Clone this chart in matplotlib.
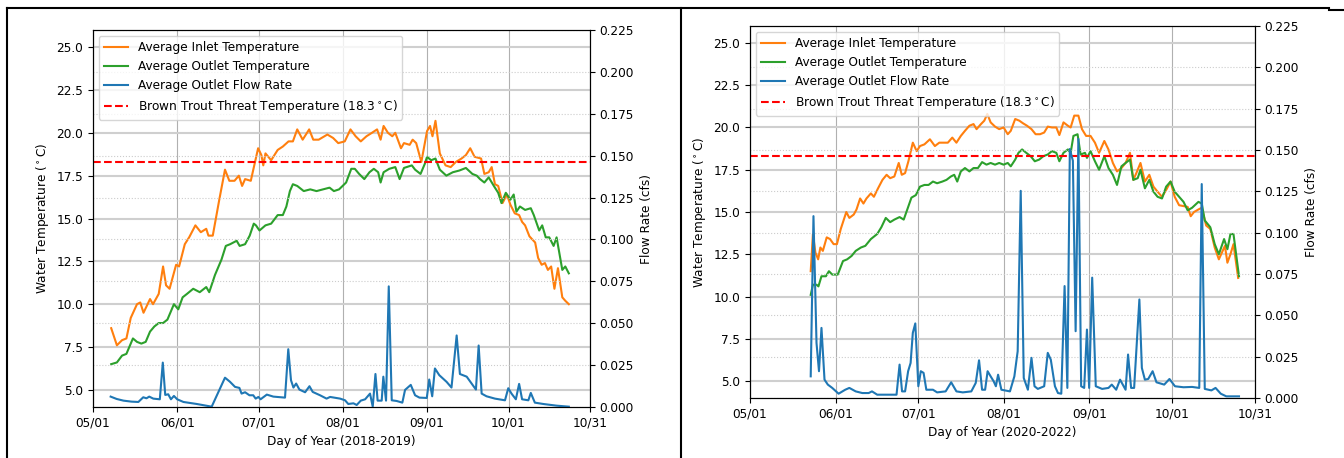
import matplotlib
matplotlib.use("Agg")
import matplotlib.pyplot as plt
from matplotlib.lines import Line2D

# ------------------------------------------------------------
# Data (day offset from 05/01, value)
# ------------------------------------------------------------
MONTH_TICKS = [0, 31, 61, 92, 123, 153, 183]
MONTH_LABELS = ["05/01", "06/01", "07/01", "08/01", "09/01", "10/01", "10/31"]
THREAT_TEMP = 18.3

left_inlet = [
    (6.7, 8.6), (8.8, 7.6), (10.7, 7.9), (12.3, 8.0), (13.9, 9.2), (16.2, 10.0),
    (17.4, 10.1), (18.6, 9.5), (21, 10.3), (22.1, 10.0), (24.2, 10.6), (25.8, 12.2),
    (26.9, 11.1), (28.2, 10.9), (30.6, 12.3), (31.7, 12.2), (33.8, 13.5), (35.4, 13.9),
    (37.7, 14.6), (39.7, 14.2), (41.7, 14.4), (42.5, 14.0), (44.1, 14.0), (46.5, 16.1),
    (48.6, 17.85), (50.2, 17.2), (52.1, 17.2), (53.7, 17.5), (54.9, 16.9), (56, 17.3),
    (58.1, 17.2), (60.8, 19.1), (62, 18.7), (62.7, 18.1), (63.5, 18.8), (65.6, 18.4),
    (68, 19.0), (69.9, 19.2), (72, 19.5), (73.6, 19.5), (75.2, 20.2), (77.2, 19.6),
    (79.6, 20.2), (81.1, 19.6), (83.1, 19.6), (86.3, 19.9), (88.4, 19.7), (90.3, 19.4),
    (92.7, 19.5), (94.8, 20.2), (96.7, 19.8), (98.6, 19.5), (100.7, 19.8), (102.7, 20.0),
    (104.6, 20.2), (105.9, 19.6), (107, 20.4), (108.6, 20.0), (110.2, 19.8), (111.3, 20.0),
    (113.4, 19.1), (114.5, 19.4), (116.6, 19.3), (117.7, 19.6), (119, 19.4), (120.9, 18.3),
    (123, 20.1), (124.1, 20.4), (125, 19.8), (126.1, 20.7), (127.7, 18.8), (129.8, 18.1),
    (131.7, 18.0), (133.6, 18.3), (135.7, 18.5), (137.3, 18.7), (138.9, 19.1), (140.5, 18.6),
    (142.9, 18.5), (144.1, 17.6), (145.7, 17.7), (146.8, 18.0), (148, 17.0), (149.2, 16.9),
    (150.8, 15.9), (152.4, 16.4), (153.7, 15.8), (155.3, 15.3), (156.9, 15.2), (158, 14.8),
    (159.1, 14.6), (160.7, 13.96), (162.8, 13.6), (163.9, 12.7), (165.2, 12.3), (166.4, 12.4),
    (167.5, 12.0), (168.7, 12.2), (169.9, 10.9), (171.2, 12.1), (172.8, 10.4), (173.9, 10.2),
    (175.2, 10.0),
]

left_outlet = [
    (6.7, 6.5), (8.8, 6.6), (10.7, 7.0), (12.3, 7.1), (14.7, 8.0), (16.2, 7.8), (17.8, 7.7),
    (19.4, 7.8), (21, 8.4), (22.6, 8.7), (24.2, 8.9), (25.8, 8.9), (27.4, 9.1), (29.8, 10.0),
    (31.4, 9.7), (33, 10.4), (34.6, 10.6), (36.9, 10.9), (39.3, 10.7), (41.7, 11.0),
    (42.8, 10.7), (44.9, 11.7), (47.3, 12.6), (48.9, 13.4), (50.5, 13.5), (52.9, 13.7),
    (54, 13.4), (56, 13.5), (57.7, 14.0), (59.2, 14.7), (60, 14.6), (61.3, 14.3), (63.5, 14.6),
    (65.6, 14.7), (68, 15.2), (69.9, 15.2), (71.2, 15.7), (72.5, 16.6), (73.6, 17.0),
    (75.2, 16.9), (77.6, 16.6), (80, 16.7), (82.3, 16.6), (84.7, 16.7), (87.1, 16.8),
    (88.7, 16.6), (90.6, 16.7), (91.9, 16.9), (93.2, 17.1), (95.1, 17.9), (96.4, 17.9),
    (98, 17.6), (99.9, 17.3), (101.8, 17.7), (103.4, 17.9), (105, 17.7), (105.9, 17.1),
    (107, 17.7), (109.1, 17.9), (111.3, 18.0), (112.9, 17.3), (114.5, 17.95), (117.4, 18.1),
    (118.6, 17.85), (120.6, 17.6), (122.2, 18.2), (123, 18.6), (124.5, 18.4), (126.1, 18.5),
    (127.7, 17.85), (130.1, 17.5), (132.5, 17.7), (134.9, 17.8), (137.3, 17.95), (139.7, 17.6),
    (141.3, 17.5), (142.5, 17.3), (144.1, 17.1), (145.7, 17.4), (147.6, 16.9), (149.2, 16.5),
    (150.4, 15.9), (152, 16.5), (153.7, 16.1), (154.9, 16.4), (155.9, 15.4), (157.2, 15.7),
    (159.1, 15.5), (161.2, 15.6), (162.3, 15.2), (164.3, 14.3), (165.4, 14.6), (166.7, 13.9),
    (168, 13.9), (169.6, 13.4), (170.7, 13.9), (172.8, 12.0), (173.9, 12.2), (175.2, 11.8),
]

left_flow = [
    (6.5, 0.0062), (8.7, 0.0048), (11.2, 0.0038), (14.2, 0.0032), (16.7, 0.0030), (18.5, 0.0058),
    (19.7, 0.0052), (20.7, 0.0062), (22.2, 0.0050), (24.6, 0.0046), (25.7, 0.0265), (26.6, 0.0072),
    (27.7, 0.0076), (28.7, 0.0046), (29.8, 0.0066), (31.0, 0.0046), (33.3, 0.0030), (38.2, 0.0018),
    (43.7, 0.0002), (48.6, 0.0175), (50.4, 0.0151), (52.3, 0.0120), (53.9, 0.0114), (54.7, 0.0080),
    (56, 0.0088), (57.6, 0.0070), (59.0, 0.0070), (59.9, 0.0050), (60.9, 0.0060), (61.7, 0.0046),
    (64, 0.0074), (66.4, 0.0062), (70.7, 0.0056), (71.9, 0.0345), (72.9, 0.0160), (73.8, 0.0116),
    (74.8, 0.0140), (76, 0.0104), (78.1, 0.0088), (79.7, 0.0124), (80.9, 0.0090), (83.6, 0.0070),
    (86.0, 0.0050), (87.3, 0.0060), (91.0, 0.0050), (92.8, 0.0040), (94.0, 0.0018), (95.9, 0.0022),
    (97.1, 0.0012), (98.6, 0.0038), (100.2, 0.0046), (102.0, 0.0080), (103.0, 0.0002),
    (104.0, 0.0197), (104.8, 0.0038), (106.3, 0.0038), (106.9, 0.0181), (107.9, 0.0038),
    (108.9, 0.0720), (110, 0.0040), (111.8, 0.0036), (113.9, 0.0026), (114.9, 0.0102),
    (117, 0.0132), (118.6, 0.0070), (120.2, 0.0056), (122.9, 0.0054), (123.8, 0.0164),
    (124.9, 0.0064), (125.9, 0.0230), (127.5, 0.0190), (130.2, 0.0150), (132, 0.0116),
    (133.9, 0.0427), (135.1, 0.0197), (137.6, 0.0181), (141, 0.0104), (142, 0.0367),
    (143.1, 0.0080), (144.9, 0.0064), (148, 0.0050), (151.7, 0.0040), (152.9, 0.0112),
    (154.1, 0.0080), (155.7, 0.0046), (156.9, 0.0138), (158, 0.0046), (160.3, 0.0040),
    (161.2, 0.0084), (162.7, 0.0026), (165.8, 0.0018), (170.7, 0.0008), (175.2, 0.0002),
]

right_inlet = [
    (22.0, 11.5), (22.8, 13.7), (23.7, 12.6), (24.7, 12.2), (25.5, 12.9), (26.4, 12.7),
    (27.8, 13.5), (29.0, 13.4), (30.3, 13.1), (31.5, 13.1), (32.9, 14.0), (34.9, 15.0),
    (36.0, 14.65), (37.6, 14.85), (38.6, 15.15), (39.9, 15.8), (41.1, 15.5), (42.2, 15.8),
    (43.8, 16.1), (44.9, 15.9), (46.4, 16.4), (48.0, 16.9), (49.5, 17.2), (50.8, 17.0),
    (52.3, 17.1), (53.9, 17.9), (55.0, 17.2), (56.2, 17.3), (57.4, 18.0), (59.0, 19.1),
    (60.4, 18.6), (61.6, 18.9), (63.2, 19.0), (65.2, 19.3), (67.0, 18.9), (68.6, 19.1),
    (70.2, 19.1), (71.7, 19.1), (73.3, 19.4), (74.8, 19.1), (76.4, 19.5), (77.9, 19.8),
    (79.5, 20.1), (81.0, 20.2), (82.1, 19.9), (83.7, 20.2), (84.9, 20.4), (86.0, 20.8),
    (87.2, 20.3), (88.8, 20.05), (90.3, 19.9), (91.9, 20.0), (93.4, 19.6), (94.5, 19.8),
    (96.1, 20.5), (97.6, 20.4), (98.9, 20.25), (100.4, 20.1), (102.0, 19.9), (103.5, 19.6),
    (105.1, 19.6), (106.6, 19.7), (107.9, 20.05), (109.4, 20.0), (111.0, 20.0), (112.1, 19.55),
    (113.6, 20.3), (115.2, 20.1), (116.2, 20.0), (117.5, 20.7), (119.0, 20.7), (120.3, 19.9),
    (121.8, 19.5), (123.4, 19.5), (125.0, 19.1), (126.5, 18.5), (128.4, 19.2), (129.9, 18.7),
    (131.5, 17.9), (133.0, 17.4), (134.6, 17.6), (136.1, 17.9), (137.7, 18.5), (138.9, 16.9),
    (140.0, 17.3), (141.5, 17.9), (143.1, 16.8), (144.7, 17.2), (146.2, 16.5), (147.7, 16.2),
    (149.3, 15.9), (150.8, 16.3), (152.4, 16.8), (153.9, 15.9), (155.5, 15.4), (157.1, 15.35),
    (158.6, 15.3), (159.7, 14.75), (160.9, 15.0), (162.5, 15.15), (163.7, 15.25), (165.3, 14.2),
    (166.8, 14.0), (168.4, 12.9), (169.9, 12.2), (171.0, 12.6), (172.1, 13.0), (173.0, 12.0),
    (174.1, 12.5), (175.2, 13.1), (176.9, 11.1),
]

right_outlet = [
    (22.0, 10.1), (22.8, 10.7), (24.1, 10.7), (24.8, 10.6), (25.9, 11.2), (27.5, 11.2),
    (28.6, 11.5), (29.8, 11.3), (31.8, 11.3), (33.7, 12.1), (35.2, 12.2), (36.8, 12.4),
    (38.3, 12.7), (40.2, 12.9), (41.8, 13.0), (43.8, 13.4), (46.1, 13.7), (47.6, 14.1),
    (49.2, 14.65), (50.8, 14.4), (52.3, 14.55), (54.2, 14.7), (55.7, 14.55), (57.0, 15.15),
    (58.5, 15.85), (60.1, 16.0), (61.6, 16.5), (63.2, 16.6), (64.7, 16.6), (66.3, 16.8),
    (67.8, 16.7), (69.7, 16.8), (71.2, 16.9), (72.8, 17.1), (74.0, 17.2), (75.1, 16.8),
    (76.4, 17.4), (77.9, 17.6), (79.5, 17.4), (81.0, 17.6), (82.6, 17.6), (84.1, 17.95),
    (85.7, 17.8), (87.2, 17.9), (88.8, 17.8), (90.3, 17.9), (91.9, 17.8), (93.4, 17.9),
    (94.5, 17.7), (96.1, 18.1), (97.3, 18.5), (98.6, 18.7), (100.1, 18.5), (101.7, 18.3),
    (103.2, 18.0), (104.8, 18.1), (106.3, 18.3), (107.9, 18.4), (109.4, 18.6), (111.0, 18.5),
    (112.1, 18.0), (113.6, 18.5), (115.2, 18.7), (116.2, 18.5), (117.2, 19.5), (118.7, 19.6),
    (119.8, 18.4), (121.4, 18.5), (122.1, 18.2), (123.4, 18.6), (125.0, 18.0), (126.5, 17.5),
    (128.4, 18.3), (129.9, 17.6), (131.5, 17.2), (133.0, 16.6), (134.6, 17.7), (136.1, 17.9),
    (137.7, 18.1), (138.9, 16.9), (140.5, 17.0), (141.5, 17.5), (143.1, 16.4), (144.7, 16.9),
    (146.2, 16.2), (147.7, 15.9), (149.3, 15.8), (150.8, 16.5), (152.4, 16.8), (153.9, 16.2),
    (155.5, 15.9), (157.1, 15.6), (158.6, 15.1), (160.2, 15.25), (162.5, 15.6), (163.7, 15.5),
    (164.8, 14.5), (166.8, 14.1), (168.4, 13.1), (169.9, 12.5), (171.8, 13.4), (173.0, 12.8),
    (174.1, 13.7), (175.2, 13.7), (177.2, 11.2),
]

right_flow = [
    (22.0, 0.0131), (23.0, 0.1100), (24.1, 0.0333), (25.0, 0.0162), (25.9, 0.0424), (27.0, 0.0111),
    (28.2, 0.0081), (29.8, 0.0061), (32.1, 0.0026), (34.5, 0.0050), (36.0, 0.0061), (38.3, 0.0040),
    (40.7, 0.0030), (43.0, 0.0030), (44.2, 0.0040), (46.1, 0.0020), (49.2, 0.0020), (53.1, 0.0020),
    (54.2, 0.0202), (55.1, 0.0040), (56.2, 0.0040), (57.3, 0.0162), (58.2, 0.0212), (59.0, 0.0394),
    (59.9, 0.0451), (61.0, 0.0071), (61.9, 0.0162), (62.9, 0.0152), (63.9, 0.0050), (66.3, 0.0050),
    (67.8, 0.0034), (70.9, 0.0040), (72.9, 0.0095), (74.8, 0.0040), (77.1, 0.0034), (80.2, 0.0040),
    (81.8, 0.0091), (83.0, 0.0228), (84.1, 0.0050), (85.2, 0.0050), (86.1, 0.0162), (87.2, 0.0131),
    (88.3, 0.0101), (89.1, 0.0071), (89.9, 0.0141), (91.1, 0.0050), (94.2, 0.0040), (95.8, 0.0131),
    (97.0, 0.0283), (98.1, 0.1253), (99.2, 0.0121), (100.7, 0.0050), (102.0, 0.0243), (103.1, 0.0071),
    (104.3, 0.0055), (106.6, 0.0071), (107.9, 0.0273), (109.0, 0.0232), (110.5, 0.0071),
    (111.6, 0.0030), (112.8, 0.0026), (114.0, 0.0677), (115.0, 0.0061), (115.9, 0.1506),
    (117.0, 0.1435), (118.0, 0.0404), (119.0, 0.1567), (120.0, 0.0071), (121.1, 0.0061),
    (122.1, 0.0414), (122.9, 0.0061), (124.0, 0.0728), (125.3, 0.0071), (127.6, 0.0055),
    (129.9, 0.0061), (131.1, 0.0081), (132.7, 0.0050), (134.1, 0.0111), (136.1, 0.0050),
    (137.0, 0.0263), (138.1, 0.0061), (139.2, 0.0061), (141.1, 0.0596), (142.0, 0.0182),
    (143.1, 0.0111), (144.3, 0.0115), (145.9, 0.0162), (147.3, 0.0095), (150.1, 0.0081),
    (152.0, 0.0115), (154.0, 0.0071), (157.1, 0.0065), (160.2, 0.0067), (162.8, 0.0061),
    (163.7, 0.1294), (164.8, 0.0055), (167.2, 0.0046), (168.7, 0.0061), (170.6, 0.0026),
    (172.6, 0.0010), (177.2, 0.0010),
]

FS = 8.7
plt.rcParams["font.family"] = ["DejaVu Sans"]
plt.rcParams["font.size"] = FS


def draw_panel(fig, rect, inlet, outlet, flow, year_label):
    ax = fig.add_axes(rect)
    ax2 = ax.twinx()

    d, v = zip(*inlet)
    l1, = ax.plot(d, v, color="#ff7f0e", lw=1.5, label="Average Inlet Temperature")
    d, v = zip(*outlet)
    l2, = ax.plot(d, v, color="#2ca02c", lw=1.5, label="Average Outlet Temperature")
    l4 = ax.axhline(THREAT_TEMP, color="red", ls="--", lw=1.5,
                    label="Brown Trout Threat Temperature (18.3$^\\circ$C)")
    d, v = zip(*flow)
    l3, = ax2.plot(d, v, color="#1f77b4", lw=1.5, label="Average Outlet Flow Rate")

    ax.set_xlim(0, 183)
    ax.set_ylim(4.0, 26.0)
    ax2.set_ylim(0, 0.225)
    ax.set_xticks(MONTH_TICKS)
    ax.set_xticklabels(MONTH_LABELS)
    ax.set_yticks([5.0, 7.5, 10.0, 12.5, 15.0, 17.5, 20.0, 22.5, 25.0])
    ax2.set_yticks([0.0, 0.025, 0.05, 0.075, 0.1, 0.125, 0.15, 0.175, 0.2, 0.225])
    ax2.yaxis.set_major_formatter(matplotlib.ticker.FormatStrFormatter("%.3f"))
    ax.yaxis.set_major_formatter(matplotlib.ticker.FormatStrFormatter("%.1f"))

    ax.grid(axis="x", color="#b0b0b0", lw=0.8)
    ax.grid(axis="y", color="#cfcfcf", lw=1.5)
    ax2.grid(axis="y", color="#cccccc", lw=0.8, ls=":")

    ax.set_xlabel(f"Day of Year ({year_label})")
    ax.set_ylabel("Water Temperature ($^\\circ$C)")
    ax2.set_ylabel("Flow Rate (cfs)")

    ax2.legend(handles=[l1, l2, l3, l4], loc="upper left", fontsize=FS)
    return ax, ax2


fig = plt.figure(figsize=(13.44, 4.58), dpi=100)

draw_panel(fig, [93 / 1344, 1 - 407 / 458, 497 / 1344, 377 / 458],
           left_inlet, left_outlet, left_flow, "2018-2019")
draw_panel(fig, [750 / 1344, 1 - 398 / 458, 505 / 1344, 372 / 458],
           right_inlet, right_outlet, right_flow, "2020-2022")

# screenshot frame lines around the two panels
W, H = 1344, 458
frame = [
    ((7, 7), (8, 458)),
    ((7, 1329), (8, 8)),
    ((681, 681), (8, 458)),
    ((1329, 1344), (10, 10)),
]
for xs, ys in frame:
    fig.add_artist(Line2D([x / W for x in xs], [1 - y / H for y in ys],
                          color="black", lw=1.5, transform=fig.transFigure))

fig.savefig("out.png", dpi=100)
